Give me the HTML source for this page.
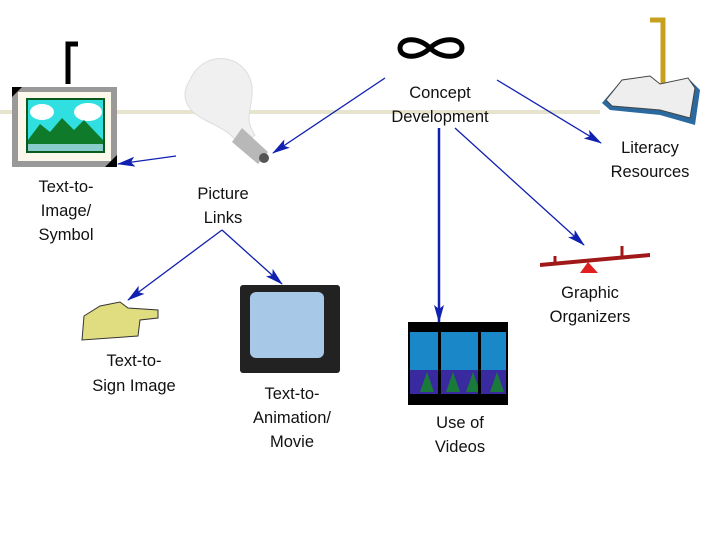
<!DOCTYPE html>
<html><head><style>
body{margin:0;background:#fff}
svg{display:block}
text{font-family:"Liberation Sans",sans-serif;font-size:16.5px;fill:#111;text-anchor:middle}
</style></head><body>
<svg width="720" height="540" viewBox="0 0 720 540">
<defs><marker id="a" markerWidth="18" markerHeight="10" refX="17" refY="5" orient="auto" markerUnits="userSpaceOnUse"><path d="M0,0 L18,5 L0,10 L4,5z" fill="#1020b0"/></marker></defs>
<rect x="0" y="110" width="600" height="4" fill="#dcd8b8" opacity="0.7"/>
<path d="M68,84 V44 H78" stroke="#000" stroke-width="5" fill="none"/>
<path d="M650,20 H663 V108" stroke="#c8a020" stroke-width="5" fill="none"/>
<!-- frame -->
<rect x="12" y="87" width="105" height="80" fill="#999"/>
<rect x="18" y="92" width="93" height="69" fill="#fdf8ec"/>
<rect x="26" y="98" width="79" height="55" fill="#0a5a20"/>
<rect x="28" y="100" width="75" height="51" fill="#30e0e0"/>
<ellipse cx="42" cy="112" rx="12" ry="8" fill="#fff"/><ellipse cx="88" cy="112" rx="14" ry="9" fill="#fff"/>
<path d="M28,140 L40,124 L50,132 L62,118 L74,130 L84,120 L103,140 V146 H28z" fill="#0f7a2a"/>
<rect x="28" y="144" width="75" height="7" fill="#8cc"/>
<path d="M12,87 h10 l-10,10z M117,167 h-12 l12,-12z" fill="#000"/>
<!-- bulb -->
<path d="M190,80 C205,45 255,55 252,95 C250,115 245,120 255,135 L240,145 C228,130 220,128 205,120 C185,110 180,95 190,80z" fill="#f0f0f0" stroke="#ddd"/>
<path d="M242,128 L268,152 L258,164 L232,142z" fill="#b8b8b8"/>
<circle cx="264" cy="158" r="5" fill="#555"/>
<!-- infinity -->
<path d="M430,48 C418,36 400,38 400,48 C400,58 418,60 430,48 C442,36 462,38 462,48 C462,58 442,60 430,48z" fill="none" stroke="#000" stroke-width="5"/>
<!-- book -->
<path d="M602,103 L620,82 L650,78 L662,86 L690,80 L700,90 L695,125 L660,115 L610,110z" fill="#2a6aa0"/>
<path d="M606,100 L622,80 L650,76 L660,84 L688,78 L695,88 L690,118 L660,110 L612,106z" fill="#eee" stroke="#444"/>
<!-- arrows -->
<g stroke="#1020b0" stroke-width="1.3" fill="none" marker-end="url(#a)">
<line x1="385" y1="78" x2="273" y2="153"/>
<line x1="176" y1="156" x2="118" y2="164"/>
<line x1="497" y1="80" x2="601" y2="143"/>
<line x1="439" y1="128" x2="439" y2="322" stroke-width="2.5"/>
<line x1="455" y1="128" x2="584" y2="245"/>
<line x1="222" y1="230" x2="128" y2="300"/>
<line x1="222" y1="230" x2="282" y2="284"/>
</g>
<!-- seesaw -->
<path d="M540,263 L650,253 L650,257 L540,267z" fill="#a01818"/>
<path d="M555,264 v-8 M622,258 v-12" stroke="#a01818" stroke-width="3"/>
<path d="M588,262 L580,273 L598,273z" fill="#e02020"/>
<!-- hand -->
<path d="M82,340 L84,316 L100,306 L120,302 L128,308 L158,310 L158,318 L140,320 L138,336z" fill="#e0dc80" stroke="#333"/>
<!-- tv -->
<rect x="240" y="285" width="100" height="88" fill="#222" rx="3"/>
<rect x="250" y="292" width="74" height="66" fill="#a8c8e8" rx="6"/>
<!-- film -->
<rect x="408" y="322" width="100" height="83" fill="#000"/>
<rect x="410" y="332" width="96" height="62" fill="#1a88c8"/>
<rect x="410" y="370" width="96" height="24" fill="#3a2aa0"/>
<path d="M420,392 l7,-20 7,20z M446,392 l7,-20 7,20z M466,392 l7,-20 7,20z M490,392 l7,-20 7,20z" fill="#1a7a3a"/>
<rect x="438" y="332" width="3" height="62" fill="#000"/><rect x="478" y="332" width="3" height="62" fill="#000"/>
<!-- labels -->
<text x="440" y="98">Concept</text><text x="440" y="122">Development</text>
<text x="66" y="192">Text-to-</text><text x="66" y="216">Image/</text><text x="66" y="240">Symbol</text>
<text x="223" y="199">Picture</text><text x="223" y="223">Links</text>
<text x="650" y="153">Literacy</text><text x="650" y="177">Resources</text>
<text x="590" y="298">Graphic</text><text x="590" y="322">Organizers</text>
<text x="134" y="366">Text-to-</text><text x="134" y="391">Sign Image</text>
<text x="292" y="399">Text-to-</text><text x="292" y="423">Animation/</text><text x="292" y="447">Movie</text>
<text x="460" y="428">Use of</text><text x="460" y="452">Videos</text>
</svg>
</body></html>
